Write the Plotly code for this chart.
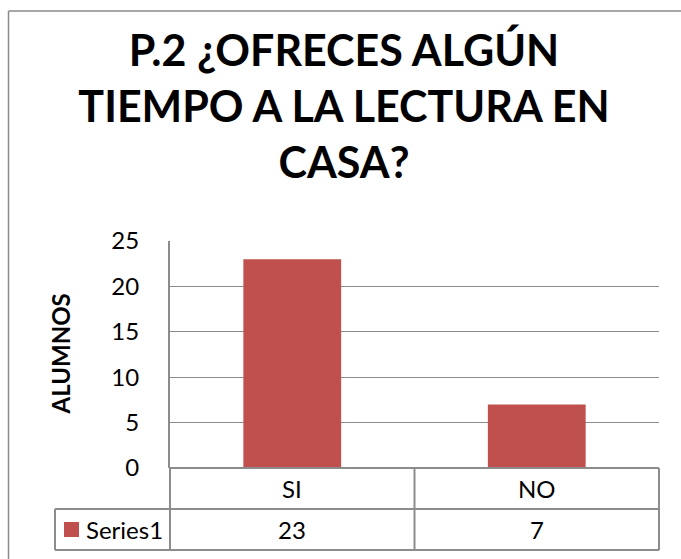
import plotly.graph_objects as go

categories = ["SI", "NO"]
values = [23, 7]
series_name = "Series1"
title_lines = ["P.2 ¿OFRECES ALGÚN", "TIEMPO A LA LECTURA EN", "CASA?"]
y_title = "ALUMNOS"
y_ticks = [0, 5, 10, 15, 20, 25]

W, H = 681, 559
L, R, T, B = 170, 659, 241, 468
pw, ph = R - L, B - T

def px(x):
    return (x - L) / pw

def py(y):
    return (B - y) / ph

FONT = "Lato"
GRID = "#8c8c8c"
BAR = "#C0504D"

fig = go.Figure()
fig.add_trace(go.Bar(x=categories, y=values, name=series_name, width=0.4,
                     marker=dict(color=BAR, line=dict(width=0)), showlegend=False))

fig.update_layout(
    width=W, height=H,
    margin=dict(l=L, r=W - R, t=T, b=H - B),
    paper_bgcolor="white", plot_bgcolor="white",
    font=dict(family=FONT, color="black"),
    title=dict(text="<br>".join(title_lines), x=344 / W, xref="container", xanchor="center",
               y=1 - 66 / H, yref="container", yanchor="middle",
               font=dict(family=FONT, size=43, color="black", weight="bold")),
    xaxis=dict(range=[-0.5, 1.5], showticklabels=False, showgrid=False, zeroline=False,
               showline=False, fixedrange=True),
    yaxis=dict(range=[0, 25], tickvals=y_ticks, showgrid=True, gridcolor=GRID, gridwidth=1.3,
               zeroline=False, showline=True, linecolor=GRID, linewidth=2,
               ticks="", ticklabelstandoff=24, tickfont=dict(family=FONT, size=24, color="black")),
    bargap=0.6,
)

shapes = []
def line(x0, y0, x1, y1, w=2, color=GRID):
    shapes.append(dict(type="line", xref="paper", yref="paper", x0=x0, y0=y0, x1=x1, y1=y1,
                       line=dict(color=color, width=w)))

r1, r2 = py(509), py(550)
xl = px(55)
# table
line(0, 0, 1, 0)
line(0, 0, 0, r2)
line(0.5, 0, 0.5, r2)
line(1, 0, 1, r2)
line(xl, r1, 1, r1)
line(xl, r2, 1, r2)
line(xl, r1, xl, r2)
# outer chart border (top and left edges visible)
line(px(8.5), py(11), px(690), py(11), w=1.5, color="#8a8a8a")
line(px(8.5), py(11), px(8.5), py(600), w=1.5, color="#8a8a8a")
# legend key
shapes.append(dict(type="rect", xref="paper", yref="paper", x0=px(64), x1=px(79), y0=py(537), y1=py(522),
                   line=dict(width=0), fillcolor=BAR))
fig.update_layout(shapes=shapes)

ann = []
for c, v in zip(categories, values):
    ann.append(dict(x=c, xref="x", y=py(488.5), yref="paper", text=c, showarrow=False,
                    font=dict(family=FONT, size=24, color="black"), xanchor="center", yanchor="middle"))
    ann.append(dict(x=c, xref="x", y=py(529.5), yref="paper", text=str(v), showarrow=False,
                    font=dict(family=FONT, size=24, color="black"), xanchor="center", yanchor="middle"))
ann.append(dict(x=px(84), xref="paper", y=py(529.5), yref="paper", text=series_name, showarrow=False,
                font=dict(family=FONT, size=24, color="black"), xanchor="left", yanchor="middle"))
ann.append(dict(x=px(60), xref="paper", y=0.5, yref="paper", text=y_title, showarrow=False, textangle=-90,
                font=dict(family=FONT, size=24, color="black", weight="bold"), xanchor="center", yanchor="middle"))
fig.update_layout(annotations=ann)

fig.write_html("out.html", config={"displayModeBar": False},
               post_script="document.body.style.margin='0';document.body.style.overflow='hidden';")
